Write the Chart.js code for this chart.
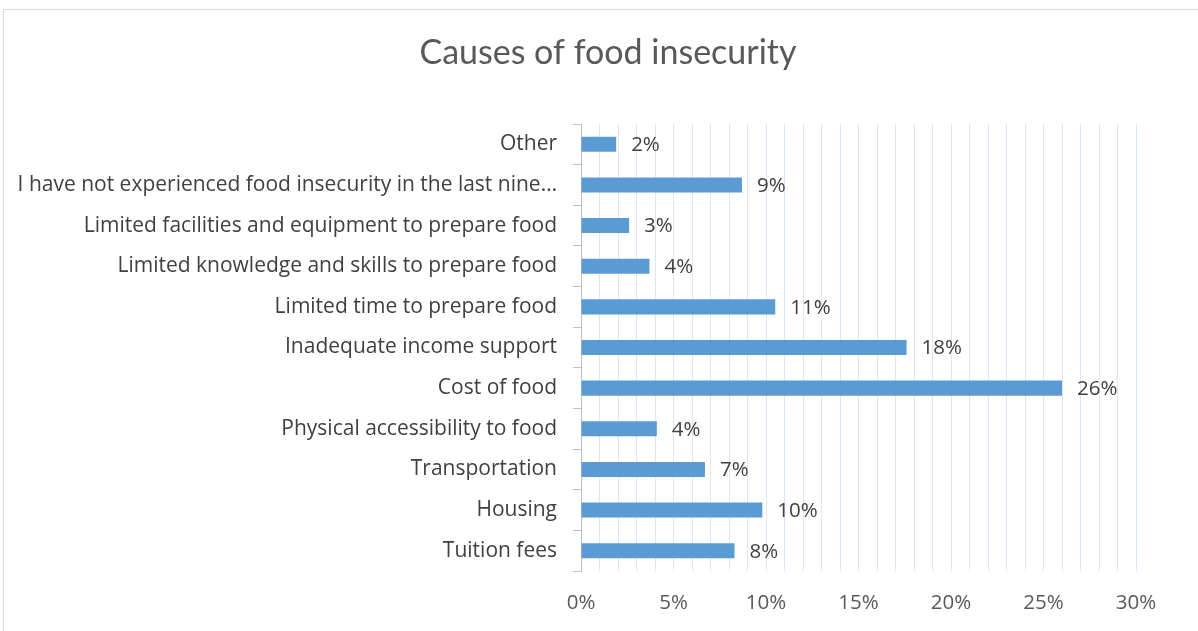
<!DOCTYPE html>
<html>
<head>
<meta charset="utf-8">
<script src="https://cdn.jsdelivr.net/npm/chart.js@4/dist/chart.umd.min.js"></script>
<style>
  html, body { margin: 0; padding: 0; background: #fff; }
  #wrap { position: relative; width: 1198px; height: 631px; }
  #frame { position: absolute; left: 3px; top: 9px; width: 1300px; height: 700px;
           border: 1px solid #d9d9d9; pointer-events: none; }
  canvas { position: absolute; left: 0; top: 0; }
</style>
</head>
<body>
<div id="wrap">
  <canvas id="chart" width="1198" height="631"></canvas>
  <div id="frame"></div>
</div>
<script>
// categories listed top to bottom as in the picture
const causes = [
  "Other",
  "I have not experienced food insecurity in the last nine\u2026",
  "Limited facilities and equipment to prepare food",
  "Limited knowledge and skills to prepare food",
  "Limited time to prepare food",
  "Inadequate income support",
  "Cost of food",
  "Physical accessibility to food",
  "Transportation",
  "Housing",
  "Tuition fees"
];
const shares = [1.9, 8.7, 2.6, 3.7, 10.5, 17.6, 26.0, 4.1, 6.7, 9.8, 8.3];
const xTicks = [0, 5, 10, 15, 20, 25, 30];
const chartTitle = "Causes of food insecurity";

const FONT = "'Open Sans', Lato, sans-serif";

// title (centred like the original, not over the plot) and value labels
const decorations = {
  id: "decorations",
  afterDraw(chart) {
    const ctx = chart.ctx;
    ctx.save();
    ctx.font = "34px Lato, sans-serif";
    ctx.fillStyle = "#595959";
    ctx.textAlign = "center";
    ctx.textBaseline = "middle";
    ctx.fillText(chartTitle, 608, 53);

    const meta = chart.getDatasetMeta(0);
    ctx.font = "20.5px " + FONT;
    ctx.fillStyle = "#404040";
    ctx.textAlign = "left";
    meta.data.forEach((bar, i) => {
      ctx.fillText(Math.round(shares[i]) + "%", bar.x + 15, bar.y + 1);
    });
    ctx.restore();
  }
};

new Chart(document.getElementById("chart").getContext("2d"), {
  type: "bar",
  data: {
    labels: causes,
    datasets: [{
      data: shares,
      backgroundColor: "#5b9bd5",
      barPercentage: 0.37,
      categoryPercentage: 1
    }]
  },
  options: {
    indexAxis: "y",
    responsive: false,
    animation: false,
    layout: { padding: { left: 0, right: 62, top: 124, bottom: 0 } },
    plugins: {
      legend: { display: false },
      tooltip: { enabled: false },
      title: { display: false }
    },
    scales: {
      x: {
        min: 0,
        max: 30,
        afterFit(scale) { scale.height = 60; },
        grid: { color: "#dbe7f4", drawTicks: false },
        border: { display: false },
        ticks: {
          stepSize: 1,
          autoSkip: false,
          maxRotation: 0,
          padding: 20,
          color: "#595959",
          font: { family: FONT, size: 20.5 },
          callback: (v) => xTicks.includes(v) ? v + "%" : ""
        }
      },
      y: {
        afterFit(scale) { scale.width = 581; },
        grid: { offset: true, drawOnChartArea: false, tickLength: 8, color: "#bfbfbf" },
        border: { color: "#bfbfbf" },
        ticks: {
          padding: 16,
          color: "#404040",
          font: { family: FONT, size: 21 }
        }
      }
    }
  },
  plugins: [decorations]
});
</script>
</body>
</html>
